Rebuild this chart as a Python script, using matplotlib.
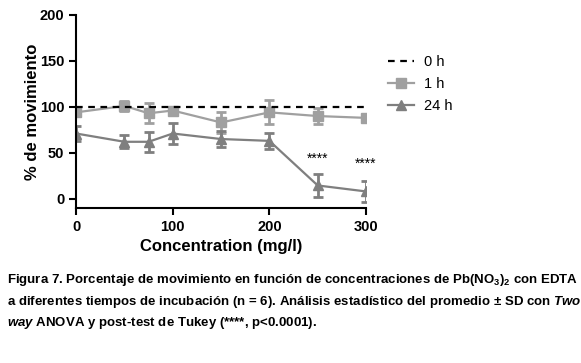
import matplotlib
matplotlib.use("Agg")
import matplotlib.pyplot as plt
from matplotlib.lines import Line2D

plt.rcParams['font.family'] = ['Liberation Sans', 'DejaVu Sans']
plt.rcParams['mathtext.fontset'] = 'custom'
plt.rcParams['mathtext.rm'] = 'Liberation Sans:bold'
plt.rcParams['mathtext.bf'] = 'Liberation Sans:bold'
plt.rcParams['mathtext.it'] = 'Liberation Sans:bold:italic'

# data
conc = [0, 50, 75, 100, 150, 200, 250, 300]
h1_mean = [94, 101, 93, 96, 83, 94, 90, 88]
h1_sd = [4, 5, 11, 3, 11, 13, 9, 3]
h24_mean = [71, 62, 62, 71, 65, 63, 14.5, 8]
h24_sd = [8, 7, 11, 11, 8.5, 9, 13, 11]
h0_x = [0, 300]
h0_y = [100, 100]
stars_x = [250, 300]
stars_y = [36, 31]

c1 = '#a0a0a0'
c24 = '#7f7f7f'

fig = plt.figure(figsize=(5.81, 3.63), dpi=100)
ax = fig.add_axes([0.131, 0.427, 0.499, 0.532])

ax.plot(h0_x, h0_y, color='black', ls=(0, (3, 2.5)), lw=1.6, zorder=3)
ax.errorbar(conc, h1_mean, yerr=h1_sd, color=c1, marker='s', ms=7, lw=1.6,
            elinewidth=2, capsize=3.5, capthick=2, zorder=2)
ax.errorbar(conc, h24_mean, yerr=h24_sd, color=c24, marker='^', ms=7, lw=1.6,
            elinewidth=2, capsize=3.5, capthick=2, zorder=2)
for sx, sy in zip(stars_x, stars_y):
    ax.text(sx, sy, '****', ha='center', va='bottom', fontsize=10)

ax.set_xlim(0, 300)
ax.set_ylim(-10, 200)
ax.set_xticks([0, 100, 200, 300])
ax.set_yticks([0, 50, 100, 150, 200])
for s in ['top', 'right']:
    ax.spines[s].set_visible(False)
for s in ['left', 'bottom']:
    ax.spines[s].set_linewidth(1.5)
ax.tick_params(width=1.5, length=5, labelsize=10.5)
for lab in ax.get_xticklabels() + ax.get_yticklabels():
    lab.set_fontweight('bold')
ax.set_xlabel('Concentration (mg/l)', fontsize=12, fontweight='bold', labelpad=4)
ax.set_ylabel('% de movimiento', fontsize=12, fontweight='bold', labelpad=0)

handles = [Line2D([], [], color='black', ls=(0, (3, 2.5)), lw=1.6),
           Line2D([], [], color=c1, marker='s', ms=7, lw=1.6),
           Line2D([], [], color=c24, marker='^', ms=7, lw=1.6)]
labels = ['0 h', '1 h', '24 h']
ax.legend(handles, labels, loc='upper left', bbox_to_anchor=(1.03, 0.86), frameon=False,
          fontsize=10.5, handlelength=1.8, labelspacing=0.55, handletextpad=0.7)

cap = [r'Figura 7. Porcentaje de movimiento en función de concentraciones de Pb(NO$_3$)$_2$ con EDTA',
       r'a diferentes tiempos de incubación (n = 6). Análisis estadístico del promedio ± SD con $\it{Two}$',
       r'$\it{way}$ ANOVA y post-test de Tukey (****, p<0.0001).']
for i, line in enumerate(cap):
    fig.text(0.012, 1 - (280 + 21.5 * i) / 363, line, fontsize=9.5, fontweight='bold',
             va='center', ha='left')

fig.savefig('out.png', dpi=100)
